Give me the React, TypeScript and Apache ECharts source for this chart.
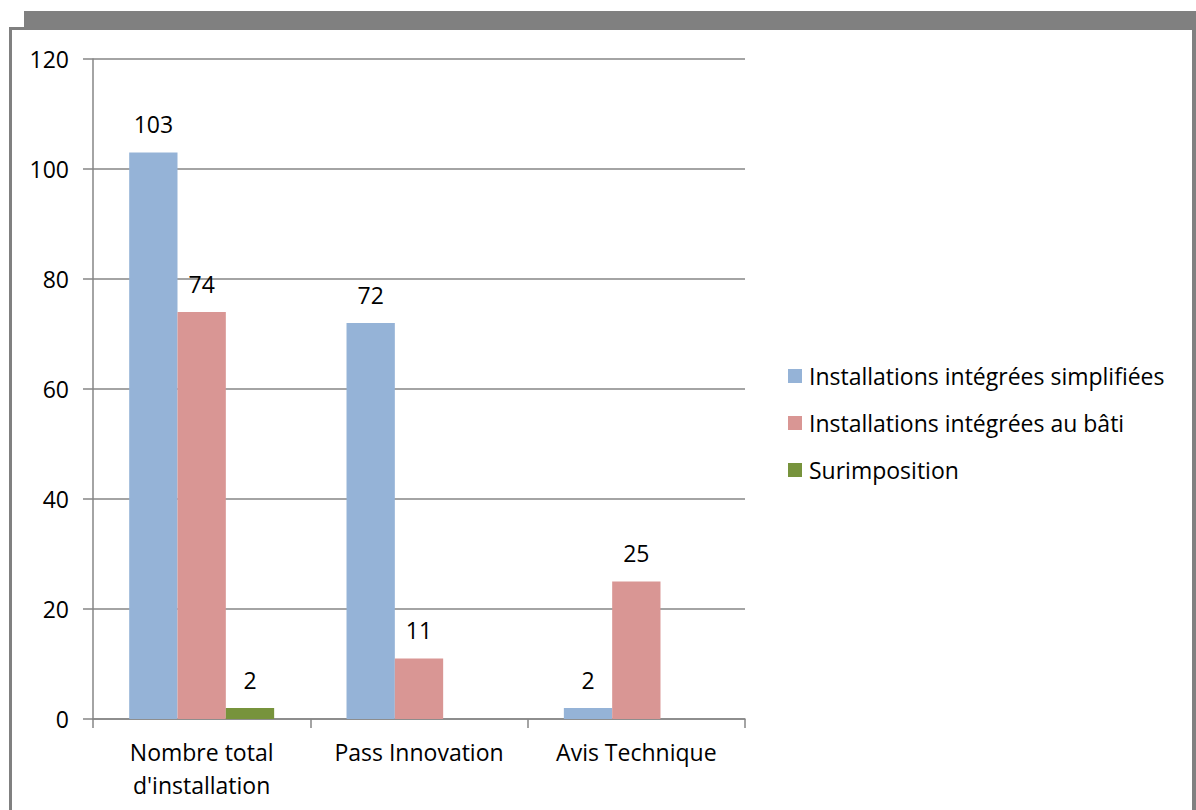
import React, { useEffect, useRef } from "react";
import * as echarts from "echarts";

const categories = ["Nombre total\nd'installation", "Pass Innovation", "Avis Technique"];
const seriesNames = [
  "Installations intégrées simplifiées",
  "Installations intégrées au bâti",
  "Surimposition",
];
const simplifiees: (number | null)[] = [103, 72, 2];
const auBati: (number | null)[] = [74, 11, 25];
const surimposition: (number | null)[] = [2, null, null];
const colors = ["#95B3D7", "#D99694", "#77933C"];
const yTicks = { min: 0, max: 120, interval: 20 };

const FONT = "'Open Sans', 'Liberation Sans', sans-serif";
const FS = 23;

export default function App() {
  const ref = useRef<HTMLDivElement>(null);
  useEffect(() => {
    if (!ref.current) return;
    const chart = echarts.init(ref.current, undefined, { renderer: "svg" });
    const values = [simplifiees, auBati, surimposition];
    chart.setOption({
      animation: false,
      graphic: [
        { type: "rect", shape: { x: 24, y: 11, width: 1172, height: 18 }, style: { fill: "#808080" }, z: 0 },
        { type: "rect", shape: { x: 9, y: 27, width: 1187, height: 790 }, style: { fill: "#808080" }, z: 0 },
        { type: "rect", shape: { x: 12, y: 30, width: 1180, height: 790 }, style: { fill: "#ffffff" }, z: 0 },
      ],
      grid: { left: 93, right: 451, top: 59, bottom: 91, containLabel: false },
      legend: {
        orient: "vertical",
        left: 788,
        top: 364,
        padding: 0,
        itemWidth: 14,
        itemHeight: 14,
        itemGap: 23,
        icon: "rect",
        textStyle: { fontFamily: FONT, fontSize: FS, color: "#000", padding: [0, 0, 0, 2], lineHeight: 24 },
        data: seriesNames,
      },
      xAxis: {
        type: "category",
        data: categories,
        axisLine: { lineStyle: { color: "#868686", width: 1.5 } },
        axisTick: { show: true, length: 9, lineStyle: { color: "#868686", width: 1.5 } },
        axisLabel: { fontFamily: FONT, fontSize: FS, color: "#000", lineHeight: 33, margin: 16, interval: 0 },
      },
      yAxis: {
        type: "value",
        min: yTicks.min,
        max: yTicks.max,
        interval: yTicks.interval,
        axisLine: { show: true, lineStyle: { color: "#868686", width: 1.5 } },
        axisTick: { show: true, inside: false, length: 10, lineStyle: { color: "#868686", width: 1.5 } },
        splitLine: { lineStyle: { color: "#868686", width: 1.5 } },
        axisLabel: { fontFamily: FONT, fontSize: FS, color: "#000", margin: 24 },
      },
      series: seriesNames.map((name, i) => ({
        name,
        type: "bar",
        data: values[i],
        barGap: "0%",
        barCategoryGap: "33.3%",
        itemStyle: { color: colors[i] },
        label: {
          show: true,
          position: "top",
          distance: 17,
          fontFamily: FONT,
          fontSize: FS,
          color: "#000",
        },
      })),
    });
    return () => chart.dispose();
  }, []);
  return (
    <div
      ref={ref}
      style={{ position: "absolute", left: 0, top: 0, width: 1196, height: 810, background: "#fff" }}
    />
  );
}
